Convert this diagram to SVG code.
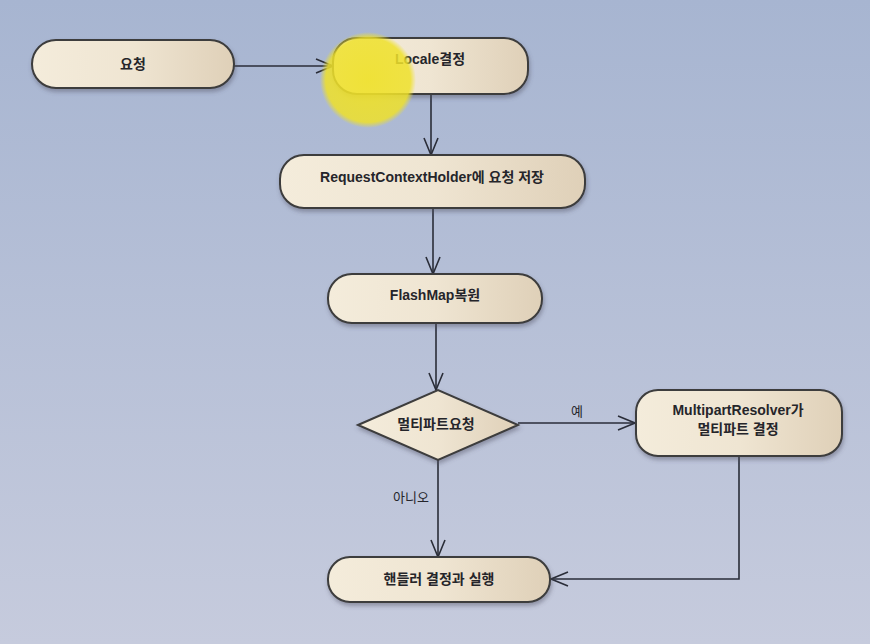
<svg xmlns="http://www.w3.org/2000/svg" width="870" height="644" viewBox="0 0 870 644">
<defs>
<linearGradient id="bg" x1="0" y1="0" x2="0" y2="1">
<stop offset="0" stop-color="#a7b5d1"/>
<stop offset="1" stop-color="#c6cbdd"/>
</linearGradient>
<linearGradient id="nf" x1="0" y1="0" x2="1" y2="0">
<stop offset="0" stop-color="#f4ecdb"/>
<stop offset="0.5" stop-color="#efe5d2"/>
<stop offset="1" stop-color="#dfd0b8"/>
</linearGradient>
<radialGradient id="hl">
<stop offset="0" stop-color="#efe12a" stop-opacity="0.92"/>
<stop offset="0.88" stop-color="#efe12a" stop-opacity="0.85"/>
<stop offset="1" stop-color="#efe12a" stop-opacity="0"/>
</radialGradient>
<filter id="sh" x="-10%" y="-10%" width="120%" height="140%">
<feDropShadow dx="1" dy="3" stdDeviation="2" flood-color="#505060" flood-opacity="0.45"/>
</filter>
<marker id="arr" viewBox="0 0 20 20" refX="19" refY="10" markerWidth="20" markerHeight="20" markerUnits="userSpaceOnUse" orient="auto">
<path d="M2,3 L19,10 L2,17" fill="none" stroke="#2a2d38" stroke-width="1.6"/>
</marker>
</defs>
<style>
.node{fill:url(#nf);stroke:#3c3c3c;stroke-width:2;filter:url(#sh)}
.lbl{font-family:"Liberation Sans","Noto Sans CJK KR",sans-serif;font-weight:bold;font-size:14px;fill:#25252a;text-anchor:middle}
.edge{fill:none;stroke:#2a2d38;stroke-width:1.6}
.elbl{font-family:"Noto Sans CJK KR","Liberation Sans",sans-serif;font-size:13px;fill:#25252a;text-anchor:middle}
</style>
<rect width="870" height="644" fill="url(#bg)"/>
<g id="connectors">
<path class="edge" d="M234,66 L333,66" marker-end="url(#arr)"/>
<path class="edge" d="M431,94 L431,155" marker-end="url(#arr)"/>
<path class="edge" d="M433,208 L433,274" marker-end="url(#arr)"/>
<path class="edge" d="M436,323 L436,390" marker-end="url(#arr)"/>
<path class="edge" d="M518,423 L635,423" marker-end="url(#arr)"/>
<text class="elbl" x="577" y="416">예</text>
<path class="edge" d="M438,460 L438,557" marker-end="url(#arr)"/>
<text class="elbl" x="411" y="502">아니오</text>
<path class="edge" d="M739,456 L739,579 L551,579" marker-end="url(#arr)"/>
</g>
<g id="n1">
<rect class="node" x="32" y="40" width="202" height="48" rx="24"/>
<text class="lbl" x="133" y="69">요청</text>
</g>
<g id="n2">
<rect class="node" x="333" y="38" width="195" height="56" rx="24"/>
<text class="lbl" x="430" y="64">Locale결정</text>
</g>
<g id="n3">
<rect class="node" x="280" y="155" width="305" height="53" rx="24"/>
<text class="lbl" x="432" y="182">RequestContextHolder에 요청 저장</text>
</g>
<g id="n4">
<rect class="node" x="328" y="274" width="214" height="49" rx="24"/>
<text class="lbl" x="435" y="300">FlashMap복원</text>
</g>
<g id="n5">
<polygon class="node" points="358,425 438,390 518,425 438,460"/>
<text class="lbl" x="436" y="429">멀티파트요청</text>
</g>
<g id="n6">
<rect class="node" x="636" y="390" width="206" height="66" rx="22"/>
<text class="lbl" x="738" y="415">MultipartResolver가</text>
<text class="lbl" x="738" y="434">멀티파트 결정</text>
</g>
<g id="n7">
<rect class="node" x="328" y="557" width="222" height="45" rx="22"/>
<text class="lbl" x="439" y="584">핸들러 결정과 실행</text>
</g>
<circle cx="368" cy="80" r="48" fill="url(#hl)"/>
</svg>
